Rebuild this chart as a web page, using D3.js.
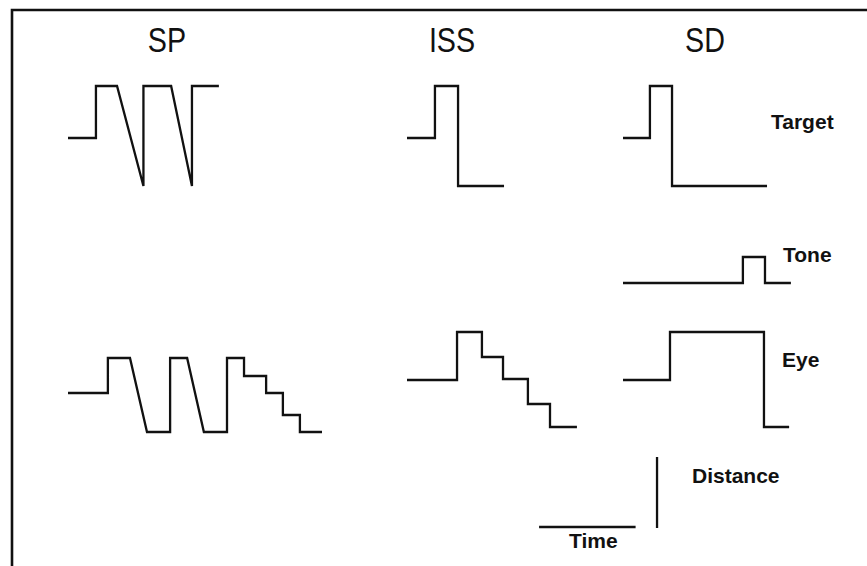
<!DOCTYPE html>
<html lang="en">
<meta charset="utf-8">
<title>SP / ISS / SD</title>
<style>
html, body { margin: 0; padding: 0; background: #fff; }
svg { display: block; }
.trace { fill: none; stroke: #111; stroke-width: 2.3; stroke-linejoin: miter; }
.frame { fill: none; stroke: #111; stroke-width: 2.6; }
.title { font-family: "Liberation Sans", Arial, sans-serif; font-size: 35px; fill: #111; }
.label { font-family: "Liberation Sans", Arial, sans-serif; font-size: 21px; font-weight: bold; fill: #111; }
</style>
<body>
<script src="https://d3js.org/d3.v7.min.js"></script>
<script>
// paradigms (columns) and trace rows
var columns = ["SP", "ISS", "SD"]
var rowLabels = ["Target", "Tone", "Eye"]

// waveforms as [time unit, relative level 0..1]
var spTarget = [[0,.48],[11,.48],[11,1],[19.3,1],[29.7,0],[29.7,1],[40.6,1],[48.8,0],[48.8,1],[59.4,1]]
var spEye = [[0,.39],[15.7,.39],[15.7,.74],[24.4,.74],[31.1,0],[40.2,0],[40.2,.74],[46.9,.74],[53.5,0],[62.6,0],
  [62.6,.74],[69.3,.74],[69.3,.56],[78,.56],[78,.39],[84.6,.39],[84.6,.17],[91.3,.17],[91.3,0],[100,0]]
var issTarget = [[0,.48],[11,.48],[11,1],[20.1,1],[20.1,0],[38.2,0]]
var issEye = [[0,.52],[19.7,.52],[19.7,1],[29.5,1],[29.5,.75],[37.8,.75],[37.8,.53],[47.6,.53],
  [47.6,.28],[56.3,.28],[56.3,.05],[66.9,.05]]
var sdTarget = [[0,.48],[10.6,.48],[10.6,1],[19.3,1],[19.3,0],[56.7,0]]
var sdTone = [[0,0],[47.2,0],[47.2,1],[55.9,1],[55.9,0],[66.1,0]]
var sdEye = [[0,.52],[18.5,.52],[18.5,1],[55.5,1],[55.5,.05],[65.4,.05]]

// scale bar lengths (time units, relative level)
var timeBar = 38
var distanceBar = 0.71

var width = 867, height = 566

var svg = d3.select("body").append("svg")
  .attr("width", width)
  .attr("height", height)

svg.append("path")
  .attr("class", "frame")
  .attr("d", "M" + (width + 10) + ",10H12V" + (height + 10))

// one x scale per column (2.54 px per time unit)
var x = {
  SP: d3.scaleLinear().domain([0, 100]).range([68, 322]),
  ISS: d3.scaleLinear().domain([0, 100]).range([407, 661]),
  SD: d3.scaleLinear().domain([0, 100]).range([623, 877])
}
// one y scale per row
var y = {
  Target: d3.scaleLinear().domain([0, 1]).range([186, 86]),
  Tone: d3.scaleLinear().domain([0, 1]).range([283, 257]),
  Eye: d3.scaleLinear().domain([0, 1]).range([432, 332])
}

var traces = [
  { col: "SP", row: "Target", values: spTarget },
  { col: "SP", row: "Eye", values: spEye },
  { col: "ISS", row: "Target", values: issTarget },
  { col: "ISS", row: "Eye", values: issEye },
  { col: "SD", row: "Target", values: sdTarget },
  { col: "SD", row: "Tone", values: sdTone },
  { col: "SD", row: "Eye", values: sdEye }
]

svg.append("g").selectAll("path")
  .data(traces)
  .enter()
  .append("path")
  .attr("class", "trace")
  .attr("d", function(d) {
    return d3.line()
      .x(function(p) { return x[d.col](p[0]) })
      .y(function(p) { return y[d.row](p[1]) })(d.values)
  })

// column titles
var titleX = { SP: 167, ISS: 452, SD: 705 }
svg.append("g").selectAll("text")
  .data(columns)
  .enter()
  .append("text")
  .attr("class", "title")
  .attr("text-anchor", "middle")
  .attr("transform", function(d) { return "translate(" + titleX[d] + ",52) scale(0.82,1)" })
  .text(function(d) { return d })

// row labels
var labelPos = { Target: [771, 129], Tone: [783, 262], Eye: [782, 367] }
svg.append("g").selectAll("text")
  .data(rowLabels)
  .enter()
  .append("text")
  .attr("class", "label")
  .attr("x", function(d) { return labelPos[d][0] })
  .attr("y", function(d) { return labelPos[d][1] })
  .text(function(d) { return d })

// scale bars
var tx0 = x.ISS(52)
svg.append("line")
  .attr("class", "trace")
  .attr("x1", tx0).attr("x2", x.ISS(52 + timeBar))
  .attr("y1", 527).attr("y2", 527)

svg.append("line")
  .attr("class", "trace")
  .attr("x1", x.SD(13.4)).attr("x2", x.SD(13.4))
  .attr("y1", 528).attr("y2", 528 - (y.Eye(0) - y.Eye(distanceBar)))

svg.append("text").attr("class", "label").attr("x", 569).attr("y", 548).text("Time")
svg.append("text").attr("class", "label").attr("x", 692).attr("y", 483).text("Distance")
</script>
</body>
</html>
